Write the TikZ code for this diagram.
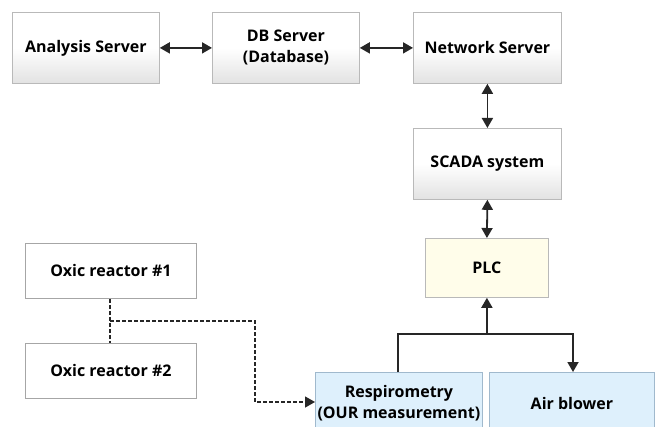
\documentclass[tikz,border=0pt]{standalone}
\usepackage{fontspec}
\setmainfont{Open Sans}
\usetikzlibrary{arrows.meta,positioning}
\definecolor{bordergray}{RGB}{185,185,185}
\definecolor{boxbot}{RGB}{226,226,226}
\definecolor{plcfill}{RGB}{255,253,234}
\definecolor{bluefill}{RGB}{222,240,252}
\definecolor{blueborder}{RGB}{160,185,205}
\begin{document}
\begin{tikzpicture}[x=1pt,y=-1pt,
  box/.style={draw=bordergray,line width=0.8pt,inner sep=0pt,align=center,
    font=\bfseries\fontsize{16}{21}\selectfont,anchor=north west},
  gradbox/.style={box,top color=white,bottom color=boxbot,middle color=white},
  plcbox/.style={box,fill=plcfill},
  bluebox/.style={box,fill=bluefill,draw=blueborder},
  whitebox/.style={box,fill=white,draw=bordergray!90!black},
  conn/.style={line width=1.8pt,draw=black!85,-{Triangle[length=10pt,width=11pt]}},
  bconn/.style={line width=1.8pt,draw=black!85,{Triangle[length=10pt,width=11pt]}-{Triangle[length=10pt,width=11pt]}},
  dconn/.style={line width=1.3pt,draw=black!85,dash pattern=on 4pt off 2pt}
]
\useasboundingbox (0,0) rectangle (660,427);
\node[gradbox,minimum width=147pt,minimum height=71pt] (as) at (12,12) {Analysis Server};
\node[gradbox,minimum width=147pt,minimum height=71pt] (db) at (212,12) {DB Server\\(Database)};
\node[gradbox,minimum width=148pt,minimum height=71pt] (ns) at (413,12) {Network Server};
\node[gradbox,minimum width=148pt,minimum height=71pt] (sc) at (413,128) {SCADA system};
\node[plcbox,minimum width=123pt,minimum height=59pt] (plc) at (425,238) {PLC};
\node[whitebox,minimum width=171pt,minimum height=55pt] (ox1) at (25,243) {Oxic reactor \#1};
\node[whitebox,minimum width=171pt,minimum height=55pt] (ox2) at (25,343) {Oxic reactor \#2};
\node[bluebox,minimum width=167pt,minimum height=62pt] (resp) at (315,372) {Respirometry\\(OUR measurement)};
\node[bluebox,minimum width=165pt,minimum height=62pt] (air) at (489,372) {Air blower};

\draw[bconn] (as.east) -- (db.west);
\draw[bconn] (db.east) -- (ns.west);
\draw[bconn] (ns.south) -- (sc.north);
\draw[bconn] (sc.south) -- (plc.north);

\coordinate (j) at (plc.south |- 0,334);
\draw[line width=1.8pt,draw=black!85] (resp.north -| 398,0) |- (j);
\draw[conn] (j) -| (air.north -| 573,0);
\draw[conn] (j) -- (plc.south);

\coordinate (d1) at (110,321);
\draw[dconn] (ox1.south -| d1) -- (ox2.north -| d1);
\draw[dconn,-{Triangle[length=10pt,width=11pt]}] (d1) -- (255,321) |- (resp.west |- 0,402);
\end{tikzpicture}
\end{document}
